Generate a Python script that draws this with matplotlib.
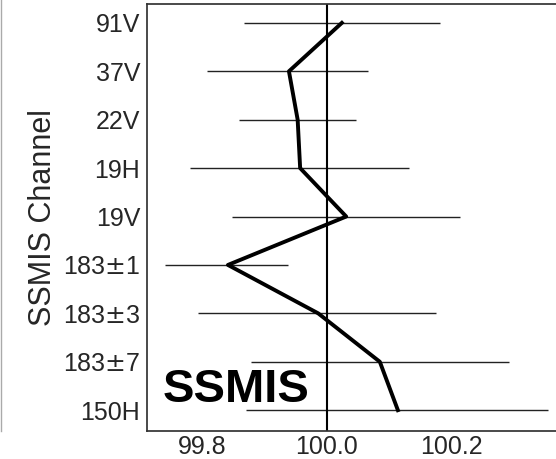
import matplotlib
matplotlib.use('Agg')
import matplotlib.pyplot as plt
from matplotlib.lines import Line2D

plt.rcParams['font.family'] = ['Liberation Sans', 'DejaVu Sans']

channels = ['150H', '183$\\pm$7', '183$\\pm$3', '183$\\pm$1', '19V', '19H', '22V', '37V', '91V']
mean_vals = [100.114, 100.085, 99.986, 99.841, 100.031, 99.957, 99.953, 99.939, 100.024]
low_vals = [99.870, 99.878, 99.793, 99.740, 99.847, 99.780, 99.859, 99.807, 99.867]
high_vals = [100.355, 100.293, 100.175, 99.937, 100.214, 100.132, 100.047, 100.066, 100.182]

fig = plt.figure(figsize=(5.56, 4.59), dpi=100)
ax = fig.add_axes([0.2644, 0.061, 0.7356, 0.9303])

ypos = list(range(len(channels)))
ax.hlines(ypos, low_vals, high_vals, color='#222222', linewidth=1.0, zorder=2)
ax.plot(mean_vals, ypos, color='black', linewidth=2.8, zorder=3)
ax.axvline(100.0, color='black', linewidth=1.5, zorder=2)

ax.set_xlim(99.711, 100.368)
ax.set_ylim(-0.43, 8.39)
ax.set_xticks([99.8, 100.0, 100.2])
ax.set_xticklabels(['99.8', '100.0', '100.2'])
ax.set_yticks(ypos)
ax.set_yticklabels(channels)
ax.tick_params(axis='both', length=0, labelsize=18, colors='#262626')
ax.tick_params(axis='y', pad=5)
ax.tick_params(axis='x', pad=3)
ax.set_ylabel('SSMIS Channel', fontsize=22, color='#262626', labelpad=3)

for side in ['left', 'top', 'bottom']:
    ax.spines[side].set_color('#333333')
    ax.spines[side].set_linewidth(1.25)
ax.spines['right'].set_visible(False)

ax.text(0.038, 0.068, 'SSMIS', transform=ax.transAxes, fontsize=34,
        fontweight='bold', color='black', ha='left', va='baseline')

fig.add_artist(Line2D([0.002, 0.002], [1 - 431 / 459, 1.0], color='#aaaaaa',
                      linewidth=1.0, transform=fig.transFigure))

fig.savefig('out.png', dpi=100)
